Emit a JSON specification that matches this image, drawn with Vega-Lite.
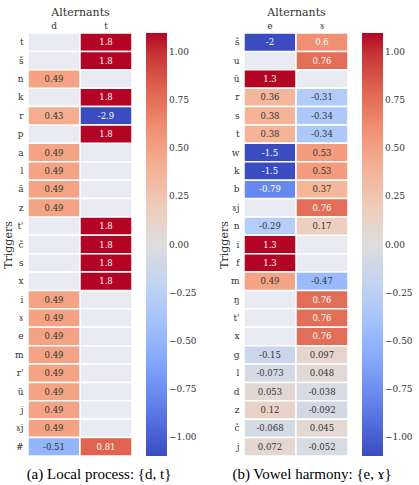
{
  "$schema": "https://vega.github.io/schema/vega-lite/v6.json",
  "padding": {"left": 2, "top": 6, "right": 0, "bottom": 2},
  "background": "white",
  "spacing": 21,
  "config": {
    "font": "DejaVu Serif",
    "view": {"stroke": null},
    "axis": {"labelFont": "DejaVu Serif", "titleFont": "DejaVu Serif", "labelColor": "#333", "titleColor": "#333", "titleFontWeight": "normal", "domain": false, "ticks": false, "grid": false},
    "legend": {"labelFont": "DejaVu Serif", "labelColor": "#333", "labelFontSize": 9, "labelOffset": 4, "gradientLength": 423, "gradientThickness": 21, "offset": 14, "labelOverlap": false, "gradientStrokeWidth": 0},
    "title": {"font": "Liberation Serif", "fontSize": 15, "fontWeight": "normal", "color": "#000"}
  },
  "datasets": {
    "a": [
      {"trig": "t", "alt": "d", "v": null}, {"trig": "t", "alt": "t", "v": 1.8},
      {"trig": "š", "alt": "d", "v": null}, {"trig": "š", "alt": "t", "v": 1.8},
      {"trig": "n", "alt": "d", "v": 0.49}, {"trig": "n", "alt": "t", "v": null},
      {"trig": "k", "alt": "d", "v": null}, {"trig": "k", "alt": "t", "v": 1.8},
      {"trig": "r", "alt": "d", "v": 0.43}, {"trig": "r", "alt": "t", "v": -2.9},
      {"trig": "p", "alt": "d", "v": null}, {"trig": "p", "alt": "t", "v": 1.8},
      {"trig": "a", "alt": "d", "v": 0.49}, {"trig": "a", "alt": "t", "v": null},
      {"trig": "l", "alt": "d", "v": 0.49}, {"trig": "l", "alt": "t", "v": null},
      {"trig": "ä", "alt": "d", "v": 0.49}, {"trig": "ä", "alt": "t", "v": null},
      {"trig": "z", "alt": "d", "v": 0.49}, {"trig": "z", "alt": "t", "v": null},
      {"trig": "t'", "alt": "d", "v": null}, {"trig": "t'", "alt": "t", "v": 1.8},
      {"trig": "č", "alt": "d", "v": null}, {"trig": "č", "alt": "t", "v": 1.8},
      {"trig": "s", "alt": "d", "v": null}, {"trig": "s", "alt": "t", "v": 1.8},
      {"trig": "x", "alt": "d", "v": null}, {"trig": "x", "alt": "t", "v": 1.8},
      {"trig": "i", "alt": "d", "v": 0.49}, {"trig": "i", "alt": "t", "v": null},
      {"trig": "ɤ", "alt": "d", "v": 0.49}, {"trig": "ɤ", "alt": "t", "v": null},
      {"trig": "e", "alt": "d", "v": 0.49}, {"trig": "e", "alt": "t", "v": null},
      {"trig": "m", "alt": "d", "v": 0.49}, {"trig": "m", "alt": "t", "v": null},
      {"trig": "r'", "alt": "d", "v": 0.49}, {"trig": "r'", "alt": "t", "v": null},
      {"trig": "ü", "alt": "d", "v": 0.49}, {"trig": "ü", "alt": "t", "v": null},
      {"trig": "j", "alt": "d", "v": 0.49}, {"trig": "j", "alt": "t", "v": null},
      {"trig": "ɤj", "alt": "d", "v": 0.49}, {"trig": "ɤj", "alt": "t", "v": null},
      {"trig": "#", "alt": "d", "v": -0.51}, {"trig": "#", "alt": "t", "v": 0.81}
    ],
    "b": [
      {"trig": "š", "alt": "e", "v": -2}, {"trig": "š", "alt": "ɤ", "v": 0.6},
      {"trig": "u", "alt": "e", "v": null}, {"trig": "u", "alt": "ɤ", "v": 0.76},
      {"trig": "ü", "alt": "e", "v": 1.3}, {"trig": "ü", "alt": "ɤ", "v": null},
      {"trig": "r", "alt": "e", "v": 0.36}, {"trig": "r", "alt": "ɤ", "v": -0.31},
      {"trig": "s", "alt": "e", "v": 0.38}, {"trig": "s", "alt": "ɤ", "v": -0.34},
      {"trig": "t", "alt": "e", "v": 0.38}, {"trig": "t", "alt": "ɤ", "v": -0.34},
      {"trig": "w", "alt": "e", "v": -1.5}, {"trig": "w", "alt": "ɤ", "v": 0.53},
      {"trig": "k", "alt": "e", "v": -1.5}, {"trig": "k", "alt": "ɤ", "v": 0.53},
      {"trig": "b", "alt": "e", "v": -0.79}, {"trig": "b", "alt": "ɤ", "v": 0.37},
      {"trig": "ɤj", "alt": "e", "v": null}, {"trig": "ɤj", "alt": "ɤ", "v": 0.76},
      {"trig": "n", "alt": "e", "v": -0.29}, {"trig": "n", "alt": "ɤ", "v": 0.17},
      {"trig": "i", "alt": "e", "v": 1.3}, {"trig": "i", "alt": "ɤ", "v": null},
      {"trig": "f", "alt": "e", "v": 1.3}, {"trig": "f", "alt": "ɤ", "v": null},
      {"trig": "m", "alt": "e", "v": 0.49}, {"trig": "m", "alt": "ɤ", "v": -0.47},
      {"trig": "ŋ", "alt": "e", "v": null}, {"trig": "ŋ", "alt": "ɤ", "v": 0.76},
      {"trig": "t'", "alt": "e", "v": null}, {"trig": "t'", "alt": "ɤ", "v": 0.76},
      {"trig": "x", "alt": "e", "v": null}, {"trig": "x", "alt": "ɤ", "v": 0.76},
      {"trig": "g", "alt": "e", "v": -0.15}, {"trig": "g", "alt": "ɤ", "v": 0.097},
      {"trig": "l", "alt": "e", "v": -0.073}, {"trig": "l", "alt": "ɤ", "v": 0.048},
      {"trig": "d", "alt": "e", "v": 0.053}, {"trig": "d", "alt": "ɤ", "v": -0.038},
      {"trig": "z", "alt": "e", "v": 0.12}, {"trig": "z", "alt": "ɤ", "v": -0.092},
      {"trig": "č", "alt": "e", "v": -0.068}, {"trig": "č", "alt": "ɤ", "v": 0.045},
      {"trig": "j", "alt": "e", "v": 0.072}, {"trig": "j", "alt": "ɤ", "v": -0.052}
    ]
  },
  "hconcat": [
    {
      "data": {"name": "a"},
      "width": 104,
      "height": 423,
      "title": {"text": "(a) Local process: {d, t}", "orient": "bottom", "anchor": "middle", "dx": 19, "offset": 10},
      "encoding": {
        "x": {"field": "alt", "type": "nominal", "sort": null, "axis": {"orient": "top", "title": "Alternants", "labelAngle": 0, "labelFontSize": 9, "titleFontSize": 11, "labelPadding": 3, "titlePadding": 4}},
        "y": {"field": "trig", "type": "nominal", "sort": null, "axis": {"title": "Triggers", "labelFontSize": 9, "titleFontSize": 11, "labelPadding": 5, "titlePadding": 1}}
      },
      "layer": [
        {"mark": {"type": "rect", "color": "#eaeaf2", "stroke": "white", "strokeWidth": 1.5}},
        {
          "transform": [{"filter": "isValid(datum.v)"}],
          "mark": {"type": "rect", "stroke": "white", "strokeWidth": 1.5},
          "encoding": {
            "color": {"field": "v", "type": "quantitative", "scale": {"domain": [-1.1, -0.825, -0.55, -0.275, 0, 0.275, 0.55, 0.825, 1.1], "range": ["#3b4cc0", "#6282ea", "#8db0fe", "#b8d0f9", "#dddddd", "#f5c4ac", "#f49a7b", "#de604d", "#b40426"], "clamp": true}, "legend": {"title": null, "direction": "vertical", "values": [-1, -0.75, -0.5, -0.25, 0, 0.25, 0.5, 0.75, 1], "format": ".2f"}}
          }
        },
        {
          "transform": [{"filter": "isValid(datum.v)"}],
          "mark": {"type": "text", "fontSize": 8.5, "font": "DejaVu Serif"},
          "encoding": {
            "text": {"field": "v", "type": "nominal"},
            "color": {"condition": {"test": "abs(datum.v) >= 0.55", "value": "white"}, "value": "#333"}
          }
        }
      ]
    },
    {
      "data": {"name": "b"},
      "width": 104,
      "height": 423,
      "title": {"text": "(b) Vowel harmony: {e, ɤ}", "orient": "bottom", "anchor": "middle", "dx": 16, "offset": 10},
      "encoding": {
        "x": {"field": "alt", "type": "nominal", "sort": null, "axis": {"orient": "top", "title": "Alternants", "labelAngle": 0, "labelFontSize": 9, "titleFontSize": 11, "labelPadding": 3, "titlePadding": 4}},
        "y": {"field": "trig", "type": "nominal", "sort": null, "axis": {"title": "Triggers", "labelFontSize": 9, "titleFontSize": 11, "labelPadding": 5, "titlePadding": 1}}
      },
      "layer": [
        {"mark": {"type": "rect", "color": "#eaeaf2", "stroke": "white", "strokeWidth": 1.5}},
        {
          "transform": [{"filter": "isValid(datum.v)"}],
          "mark": {"type": "rect", "stroke": "white", "strokeWidth": 1.5},
          "encoding": {
            "color": {"field": "v", "type": "quantitative", "scale": {"domain": [-1.1, -0.825, -0.55, -0.275, 0, 0.275, 0.55, 0.825, 1.1], "range": ["#3b4cc0", "#6282ea", "#8db0fe", "#b8d0f9", "#dddddd", "#f5c4ac", "#f49a7b", "#de604d", "#b40426"], "clamp": true}, "legend": {"title": null, "direction": "vertical", "values": [-1, -0.75, -0.5, -0.25, 0, 0.25, 0.5, 0.75, 1], "format": ".2f"}}
          }
        },
        {
          "transform": [{"filter": "isValid(datum.v)"}],
          "mark": {"type": "text", "fontSize": 8.5, "font": "DejaVu Serif"},
          "encoding": {
            "text": {"field": "v", "type": "nominal"},
            "color": {"condition": {"test": "abs(datum.v) >= 0.55", "value": "white"}, "value": "#333"}
          }
        }
      ]
    }
  ],
  "resolve": {"scale": {"color": "independent"}, "legend": {"color": "independent"}}
}
